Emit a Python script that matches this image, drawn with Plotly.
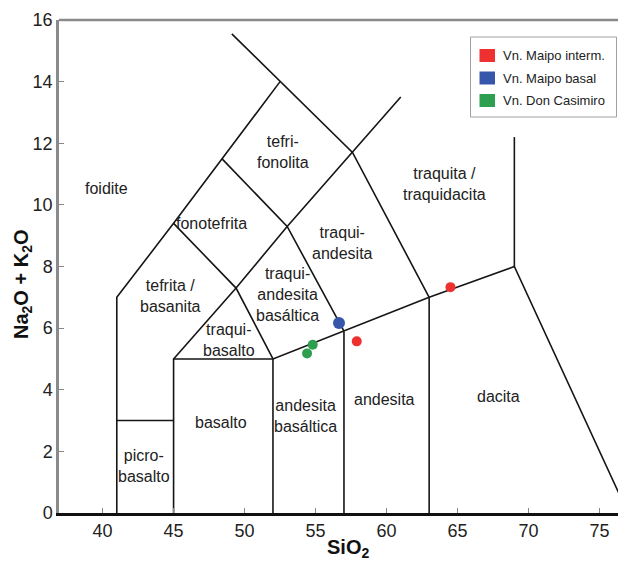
import plotly.graph_objects as go

# ---- data: boundary polylines of the TAS diagram (SiO2, Na2O+K2O) ----
bnd_outer_left_x = [41, 41, 45, 48.4, 52.5]
bnd_outer_left_y = [0, 7, 9.4, 11.5, 14]
bnd_top_x = [49.1, 52.5, 57.6, 63]
bnd_top_y = [15.55, 14, 11.7, 7]
bnd_picro_x = [41, 45]
bnd_picro_y = [3, 3]
bnd_alk_x = [45, 45, 52, 57, 63, 69, 77]
bnd_alk_y = [0, 5, 5, 5.9, 7, 8, 0]
bnd_v52_x = [52, 52]
bnd_v52_y = [0, 5]
bnd_v57_x = [57, 57]
bnd_v57_y = [0, 5.9]
bnd_v63_x = [63, 63]
bnd_v63_y = [0, 7]
bnd_v69_x = [69, 69]
bnd_v69_y = [8, 12.2]
bnd_diag_x = [45, 49.4, 53, 57.6, 61]
bnd_diag_y = [5, 7.3, 9.3, 11.7, 13.5]
bnd_tb_x = [45, 49.4, 52]
bnd_tb_y = [9.4, 7.3, 5]
bnd_pt_x = [48.4, 53, 57]
bnd_pt_y = [11.5, 9.3, 5.9]

boundaries = [
    (bnd_outer_left_x, bnd_outer_left_y), (bnd_top_x, bnd_top_y),
    (bnd_picro_x, bnd_picro_y), (bnd_alk_x, bnd_alk_y),
    (bnd_v52_x, bnd_v52_y), (bnd_v57_x, bnd_v57_y), (bnd_v63_x, bnd_v63_y),
    (bnd_v69_x, bnd_v69_y), (bnd_diag_x, bnd_diag_y), (bnd_tb_x, bnd_tb_y),
    (bnd_pt_x, bnd_pt_y),
]

# ---- field labels ----
label_text = ["foidite", "tefri-<br>fonolita", "fonotefrita", "traqui-<br>andesita",
              "traquita /<br>traquidacita", "tefrita /<br>basanita",
              "traqui-<br>andesita<br>basáltica", "traqui-<br>basalto", "basalto",
              "picro-<br>basalto", "andesita<br>basáltica", "andesita", "dacita"]
label_x = [40.27, 52.69, 47.7, 56.9, 64.1, 44.79, 53.04, 48.87, 48.37, 42.95, 54.32, 59.82, 67.88]
label_y = [10.52, 11.72, 9.39, 8.77, 10.68, 7.05, 7.08, 5.63, 2.95, 1.52, 3.14, 3.68, 3.79]

# ---- samples ----
series_names = ["Vn. Maipo interm.", "Vn. Maipo basal", "Vn. Don Casimiro"]
series_colors = ["#EE3130", "#3656AB", "#2E9F4E"]
series_sizes = [10, 12, 10]
maipo_interm_x = [57.9, 64.5]
maipo_interm_y = [5.57, 7.33]
maipo_basal_x = [56.65]
maipo_basal_y = [6.17]
don_casimiro_x = [54.8, 54.4]
don_casimiro_y = [5.46, 5.18]
series_x = [maipo_interm_x, maipo_basal_x, don_casimiro_x]
series_y = [maipo_interm_y, maipo_basal_y, don_casimiro_y]

x_ticks = [40, 45, 50, 55, 60, 65, 70, 75]
y_ticks = [0, 2, 4, 6, 8, 10, 12, 14, 16]
x_title = "<b>SiO<sub>2</sub></b>"
y_title = "<b>Na<sub>2</sub>O + K<sub>2</sub>O</b>"

FONT = "Liberation Sans, Arial, Helvetica, sans-serif"
W, H = 618, 562
ML, MR, MT, MB = 59, 0, 20, 49
PW, PH = W - ML - MR, H - MT - MB


def px(x):
    return (x - ML) / PW


def py(y):
    return (H - MB - y) / PH


fig = go.Figure()
for bx, by in boundaries:
    fig.add_trace(go.Scatter(x=bx, y=by, mode="lines",
                             line=dict(color="#151515", width=1.6),
                             showlegend=False, hoverinfo="skip"))

for name, col, sz, sx, sy in zip(series_names, series_colors, series_sizes, series_x, series_y):
    fig.add_trace(go.Scatter(x=sx, y=sy, mode="markers", name=name,
                             marker=dict(color=col, size=sz, line=dict(width=0)),
                             showlegend=False))

for t, lx, ly in zip(label_text, label_x, label_y):
    fig.add_annotation(x=lx, y=ly, text=t, showarrow=False,
                       font=dict(family=FONT, size=16, color="#222222"),
                       xanchor="center", yanchor="middle")

# axis titles
fig.add_annotation(xref="paper", yref="paper", x=px(348), y=py(548), text=x_title,
                   showarrow=False, xanchor="center", yanchor="middle",
                   font=dict(family=FONT, size=20, color="#111111"))
fig.add_annotation(xref="paper", yref="paper", x=px(22), y=py(284), text=y_title,
                   showarrow=False, xanchor="center", yanchor="middle", textangle=-90,
                   font=dict(family=FONT, size=20, color="#111111"))

# top border
fig.add_shape(type="line", xref="paper", yref="paper", x0=0, x1=1, y0=1, y1=1,
              line=dict(color="#8a8a8a", width=2.5))

# legend box (drawn in paper coordinates)
fig.add_shape(type="rect", xref="paper", yref="paper",
              x0=px(470.5), x1=px(616.5), y0=py(117), y1=py(37),
              line=dict(color="#a0a0a0", width=1), fillcolor="white", layer="above")
leg_rows = [55.5, 78, 100.5]
for name, col, ry in zip(series_names, series_colors, leg_rows):
    fig.add_shape(type="rect", xref="paper", yref="paper",
                  x0=px(479.5), x1=px(495), y0=py(ry + 6.5), y1=py(ry - 6.5),
                  line=dict(width=0), fillcolor=col, layer="above")
    fig.add_annotation(xref="paper", yref="paper", x=px(500.5), y=py(ry), text=name,
                       showarrow=False, xanchor="left", yanchor="middle",
                       font=dict(family=FONT, size=13, color="#222222"))

fig.update_layout(
    width=W, height=H,
    margin=dict(l=ML, r=MR, t=MT, b=MB),
    paper_bgcolor="white", plot_bgcolor="white",
    font=dict(family=FONT, color="#222222"),
    showlegend=False,
    xaxis=dict(range=[36.93, 76.3], tickvals=x_ticks, ticks="inside", ticklen=5,
               tickcolor="#888888", tickwidth=1, showgrid=False, zeroline=False,
               showline=True, linecolor="#111111", linewidth=2.5,
               tickfont=dict(family=FONT, size=18, color="#222222")),
    yaxis=dict(range=[0, 16], tickvals=y_ticks, ticks="inside", ticklen=5,
               tickcolor="#888888", tickwidth=1, showgrid=False, zeroline=False,
               showline=True, linecolor="#8a8a8a", linewidth=2.5,
               tickfont=dict(family=FONT, size=18, color="#222222")),
)

fig.write_html("out.html", config={"displayModeBar": False},
               post_script="document.body.style.margin='0';document.body.style.overflow='hidden';")
